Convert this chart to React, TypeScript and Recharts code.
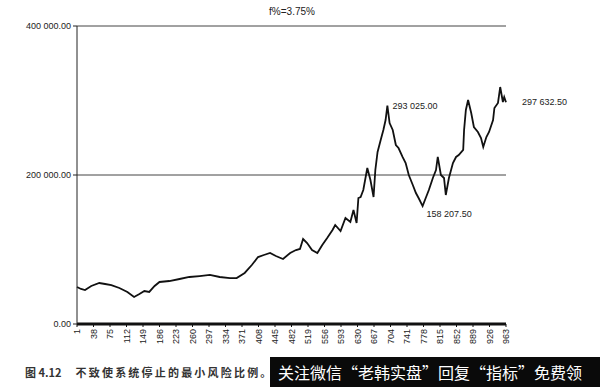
import { LineChart, Line, XAxis, YAxis, CartesianGrid, ReferenceDot } from 'recharts'

// Valeurs
const periods = [
  1, 10, 19, 33, 51, 64, 78, 96, 114, 129, 141, 152, 163, 175, 186, 208, 231, 253, 276, 299,
  321, 344, 359, 377, 393, 407, 420, 434, 447, 463, 479, 492, 501, 508, 517, 528, 540, 551, 562, 574,
  580, 592, 603, 614, 621, 628, 632, 637, 643, 652, 659, 666, 670, 675, 682, 688, 693, 697, 702, 709,
  716, 722, 731, 738, 745, 754, 761, 767, 776, 783, 790, 799, 806, 810, 817, 824, 828, 835, 844, 851,
  857, 867, 869, 873, 878, 885, 891, 900, 907, 912, 919, 925, 934, 937, 945, 950, 956, 959, 963,
]
const equity = [
  49700, 47000, 45600, 51000, 55000, 53700, 52300, 48300, 43000, 36200, 40300, 44300, 43000, 51000, 56400, 57700, 60400, 63100, 64400, 65800,
  63100, 61700, 61700, 68500, 79200, 89900, 92600, 95300, 91300, 87300, 95300, 99300, 100700, 114100, 108700, 99300, 95300, 106000, 115400, 126200,
  132900, 124800, 142300, 136900, 153000, 135600, 169100, 170500, 179900, 209400, 193300, 170500, 206700, 230900, 247000, 260400, 273800, 293025, 269800, 260400,
  240300, 236200, 224200, 216100, 200000, 186600, 175800, 169100, 158207.5, 169100, 179900, 196000, 206700, 224200, 200000, 196000, 173200, 196000, 216100, 224200,
  226800, 233600, 260400, 287300, 300700, 283200, 264400, 257700, 249700, 237600, 251000, 257700, 273800, 289900, 296700, 318100, 298000, 304700, 297632.5,
]
const xTicks = [
  1, 38, 75, 112, 149, 186, 223, 260, 297, 334, 371, 408, 445, 482, 519, 556, 593, 630, 667, 704,
  741, 778, 815, 852, 889, 926, 963,
]
const yTicks = [0, 200000, 400000]
// points annotés : [période, valeur, texte]
const notes: [number, number, string][] = [
  [697, 293025, '293 025.00'],
  [776, 158207.5, '158 207.50'],
  [963, 297632.5, '297 632.50'],
]
const noteOffsets = [
  [5, 0],
  [4, 8],
  [16, 0],
]

const data = periods.map((p, i) => ({ p, v: equity[i] }))

const font = '"Liberation Sans", Arial, sans-serif'

const fmtY = (v: number) => {
  if (v === 0) return '0.00'
  const k = Math.floor(v / 1000)
  const r = String(v % 1000).padStart(3, '0')
  return `${k} ${r}.00`
}

const XTick = ({ x, y, payload }: any) => (
  <text
    x={x}
    y={y}
    transform={`rotate(-90 ${x} ${y})`}
    textAnchor="end"
    dominantBaseline="central"
    fontSize={9}
    fontFamily={font}
    fill="#222"
  >
    {payload.value}
  </text>
)

const App = () => {
  return (
    <div style={{ position: 'fixed', left: 0, top: 0, width: 600, height: 387, background: '#fff' }}>
      <div
        style={{
          position: 'absolute',
          left: 0,
          width: 584,
          top: 6,
          textAlign: 'center',
          fontFamily: font,
          fontSize: 10,
          color: '#222',
        }}
      >
        f%=3.75%
      </div>
      <LineChart width={600} height={387} data={data} margin={{ top: 26, right: 94, bottom: 33, left: 0 }}>
        <CartesianGrid vertical={false} stroke="#444" strokeWidth={1} />
        <XAxis
          type="number"
          dataKey="p"
          domain={[1, 963]}
          ticks={xTicks}
          interval={0}
          height={30}
          tick={<XTick />}
          tickSize={3}
          tickMargin={2}
          axisLine={{ stroke: '#111', strokeWidth: 3 }}
          tickLine={{ stroke: '#111' }}
        />
        <YAxis
          domain={[0, 400000]}
          ticks={yTicks}
          width={77}
          tickFormatter={fmtY}
          tickSize={4}
          tickMargin={2}
          tick={{ fontSize: 9, fontFamily: font, fill: '#222' }}
          axisLine={{ stroke: '#222' }}
          tickLine={{ stroke: '#222' }}
        />
        <Line
          type="linear"
          dataKey="v"
          stroke="#111"
          strokeWidth={1.8}
          dot={false}
          isAnimationActive={false}
        />
        {notes.map(([p, v, txt], i) => (
          <ReferenceDot
            key={txt}
            x={p}
            y={v}
            r={0}
            stroke="none"
            fill="none"
            label={{
              content: ({ viewBox }: any) => (
                <text
                  x={viewBox.x + noteOffsets[i][0]}
                  y={viewBox.y + noteOffsets[i][1]}
                  dominantBaseline="central"
                  fontSize={9}
                  fontFamily={font}
                  fill="#222"
                >
                  {txt}
                </text>
              ),
            }}
          />
        ))}
      </LineChart>
      <div
        style={{
          position: 'absolute',
          left: 25,
          top: 364,
          fontFamily: '"Noto Sans CJK SC", sans-serif',
          fontSize: 11,
          fontWeight: 700,
          color: '#333',
          whiteSpace: 'nowrap',
          lineHeight: '16px',
        }}
      >
        图 4.12<span style={{ marginLeft: 14, letterSpacing: 2.2 }}>不致使系统停止的最小风险比例。</span>
      </div>
      <div
        style={{
          position: 'absolute',
          left: 270,
          top: 357,
          width: 330,
          height: 30,
          background: '#0a0a0a',
          color: '#fff',
          fontFamily: '"Noto Sans CJK SC", sans-serif',
          fontSize: 16,
          lineHeight: '30px',
          paddingLeft: 8,
          boxSizing: 'border-box',
          whiteSpace: 'nowrap',
          overflow: 'hidden',
        }}
      >
        关注微信“老韩实盘”回复“指标”免费领
      </div>
    </div>
  )
}

export default App
